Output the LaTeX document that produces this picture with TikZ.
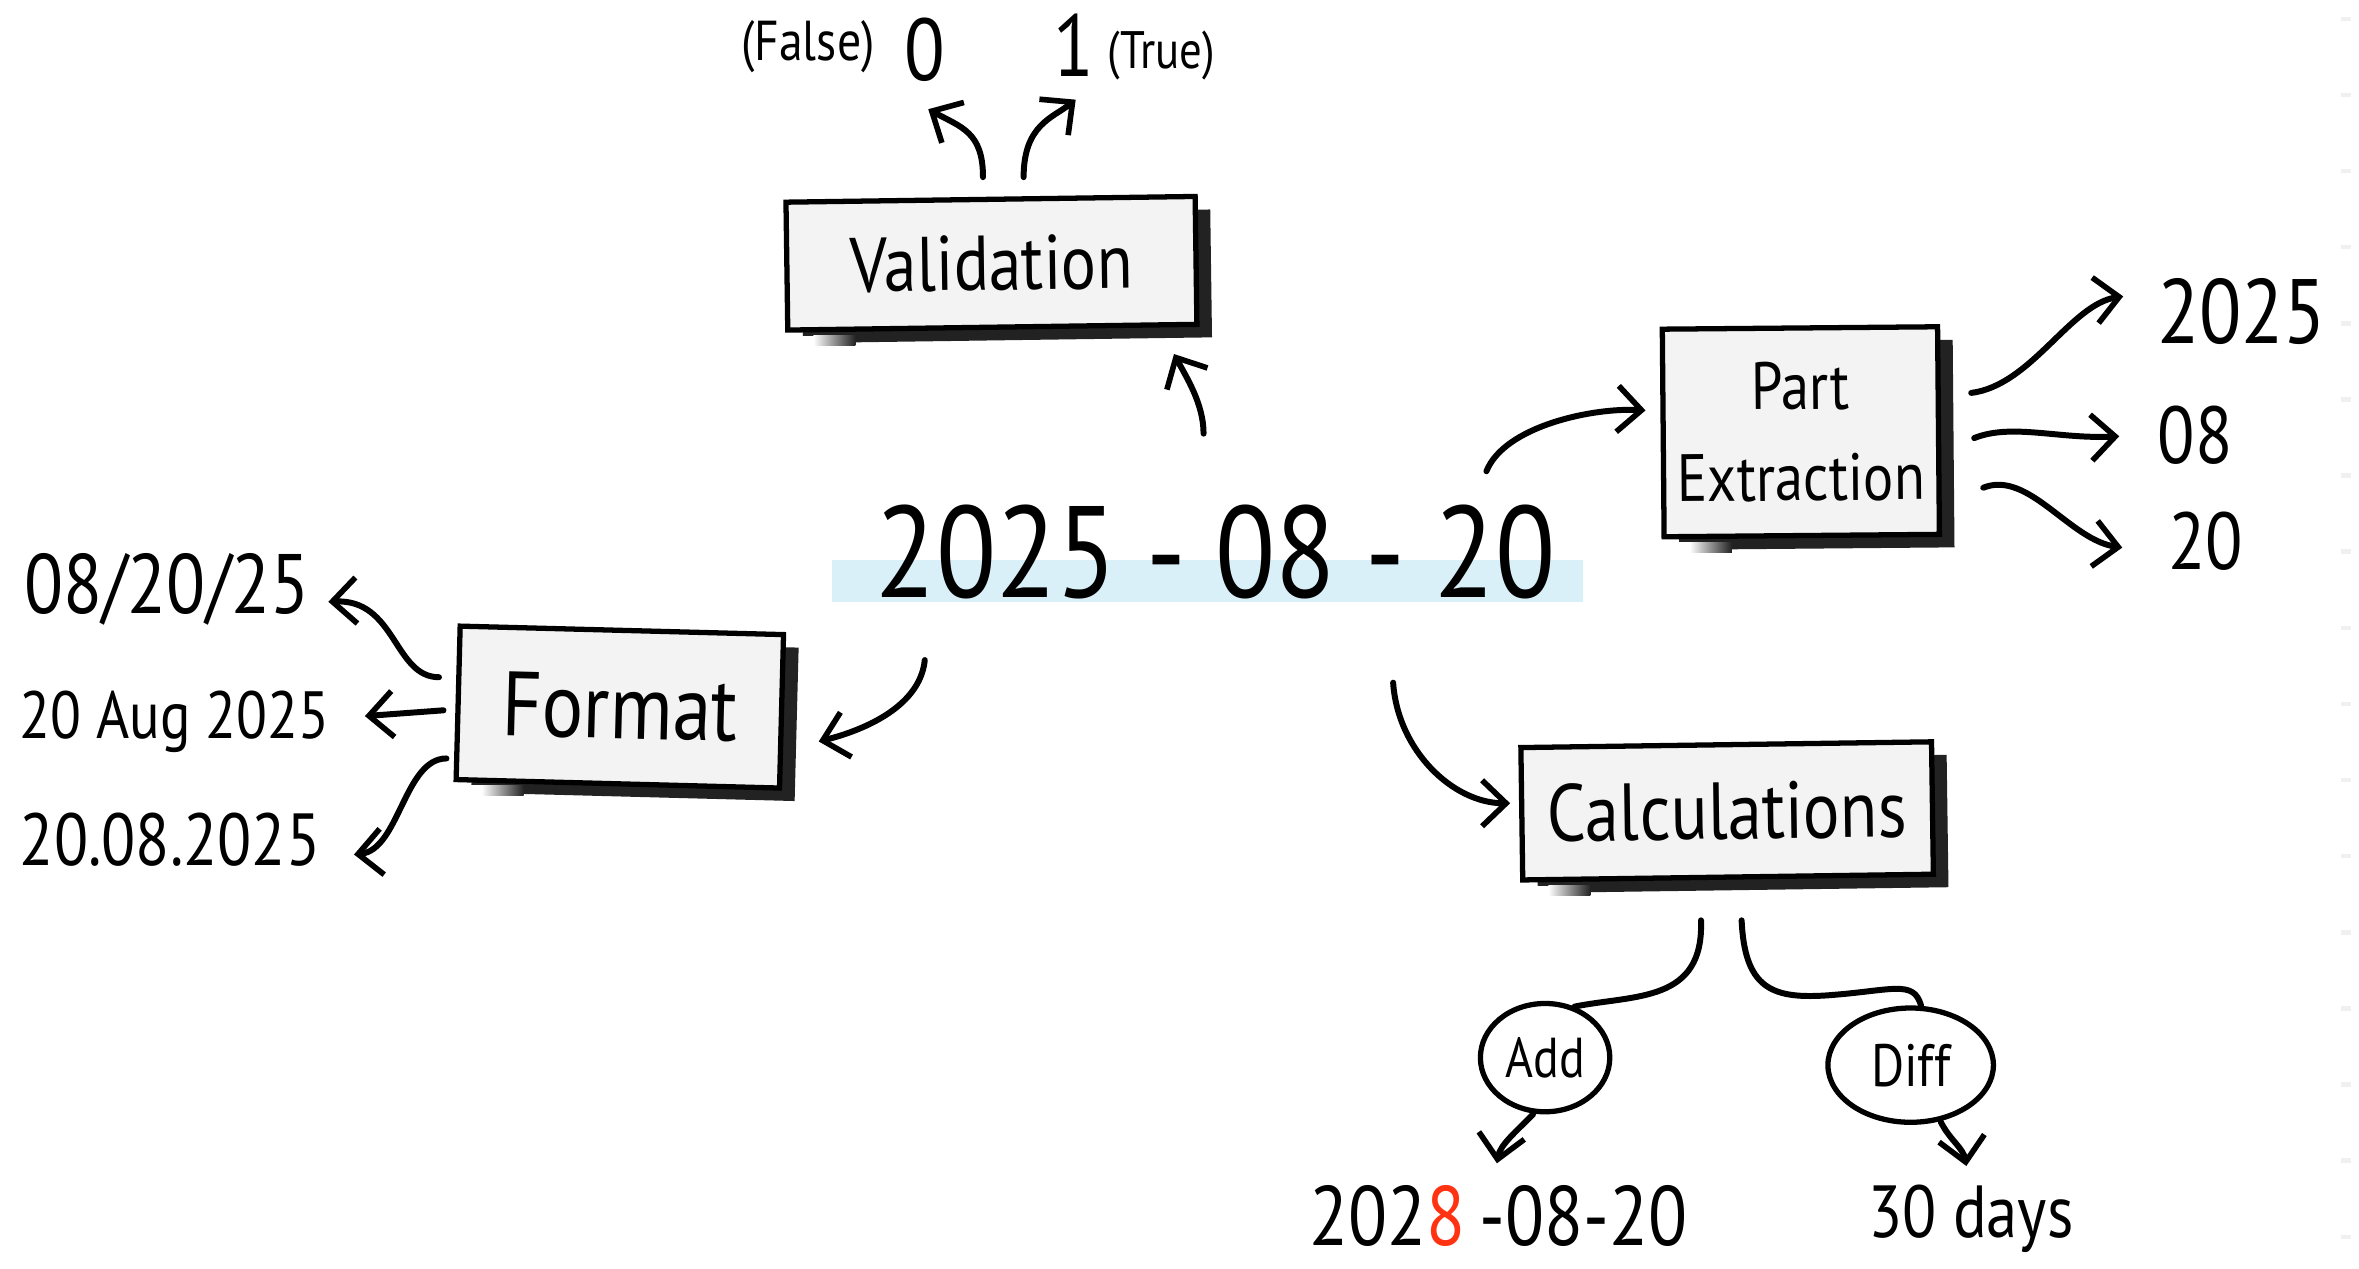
\documentclass[tikz,border=0pt]{standalone}
\usepackage{fontspec}
\setmainfont{PT Sans}[FakeStretch=0.85]
\usetikzlibrary{arrows.meta,calc,shadows,shapes.geometric}
\definecolor{boxfill}{HTML}{F3F3F3}
\definecolor{hilite}{HTML}{DAF0F8}
\definecolor{accent}{HTML}{FF3311}
\definecolor{shadowink}{HTML}{222222}
\newcommand\fs[1]{\fontsize{#1}{#1}\selectfont}
% soft start of the bottom shadow strip of a card
\newcommand\softshadow[1]{%
  \fill[white] ($(#1.south west)+(2.8pt,-0.85pt)$) rectangle ($(#1.south west)+(8pt,-3.75pt)$);
  \shade[left color=white, right color=shadowink]
    ($(#1.south west)+(8pt,-0.85pt)$) rectangle ($(#1.south west)+(20pt,-3.75pt)$);}

\begin{document}
\begin{tikzpicture}[x=0.15045mm, y=-0.15045mm,
  card/.style={draw, line width=1.5pt, fill=boxfill, inner sep=0pt, align=center,
    drop shadow={shadow xshift=4.3pt, shadow yshift=-3.7pt, fill=shadowink, opacity=1}},
  bubble/.style={draw, ellipse, line width=1.5pt, inner sep=0pt, fill=white},
  lbl/.style={inner sep=0pt},
  link/.style={line width=1.7pt, line cap=round},
  arr/.style={link, -{Straight Barb[length=2.4mm, width=4.6mm, line width=1.6pt]}}]

% canvas
\fill[white] (0,0) rectangle (1568,843);
\useasboundingbox (0,0) rectangle (1568,843);

% faint ticks along the right edge
\foreach \k in {0,...,16}
  \fill[black!6] (1556,{11+50.6*\k}) rectangle ++(7,3);

% marker stroke under the central date
\fill[hilite] (553,372) rectangle (1052,400);

% central date
\node[lbl, font=\fs{37}] (date) at (808,367) {2025 - 08 - 20};

% the four operation cards
\node[card, minimum width=40.92mm, minimum height=12.79mm, rotate=0.8, font=\fs{22}] (val) at (659,175) {Validation};
\node[card, minimum width=27.53mm, minimum height=20.76mm, rotate=0.5, font=\fontsize{19}{26}\selectfont] (part) at (1197,287) {Part\\Extraction};
\node[card, minimum width=32.35mm, minimum height=15.35mm, rotate=-1.5, font=\fs{26}] (fmt) at (412,470) {Format};
\node[card, minimum width=41.07mm, minimum height=13.24mm, rotate=0.8, font=\fs{23}] (calc) at (1148,539) {Calculations};
\softshadow{val}
\softshadow{part}
\softshadow{fmt}
\softshadow{calc}

% validation results
\node[lbl, font=\fs{16}] (falselbl) at (537,31) {(False)};
\node[lbl, font=\fs{25}] (zero) at (615,33) {0};
\node[lbl, font=\fs{25}] (one) at (714,30) {1};
\node[lbl, font=\fs{15}] (truelbl) at (772,37) {(True)};

% extracted parts
\node[lbl, font=\fs{26}] (y25) at (1490,207) {2025};
\node[lbl, font=\fs{23}] (m08) at (1459,289) {08};
\node[lbl, font=\fs{23}] (d20) at (1466,360) {20};

% formatted variants
\node[lbl, font=\fs{24}] (f1) at (111,392) {08/20/25};
\node[lbl, font=\fs{19}] (f2) at (116,480) {20 Aug 2025};
\node[lbl, font=\fs{21}] (f3) at (113,558) {20.08.2025};

% calculation branches
\node[bubble, minimum width=12.94mm, minimum height=10.83mm, font=\fs{16}] (add) at (1027,703) {Add};
\node[bubble, minimum width=16.55mm, minimum height=11.43mm, font=\fs{17}] (diff) at (1270,708) {Diff};
\node[lbl, font=\fs{24}] (res1) at (996,808) {202\textcolor{accent}{8}\,-08-20};
\node[lbl, font=\fs{21}] (res2) at (1310,810) {30 days};

% connectors: validation
\draw[arr] ($(val.north)+(-5,-13)$) .. controls +(0,-30) and +(22,12) .. ($(zero.south)+(2,18)$);
\draw[arr] ($(val.north)+(22,-13)$) .. controls +(0,-35) and +(-15,12) .. ($(one.south)+(1,15)$);
\draw[arr] ($(date.north)+(-8,-47)$) .. controls +(0,-20) and +(8,15) .. ($(val.south east)+(-17,18)$);

% connectors: part extraction
\draw[arr] ($(date.north)+(180,-22)$) .. controls +(12,-30) and +(-35,-2) .. ($(part.west)+(-10,-15)$);
\draw[arr] ($(part.east)+(20,-25)$) .. controls +(40,-5) and +(-35,5) .. ($(y25.west)+(-22,-10)$);
\draw[arr] ($(part.east)+(22,5)$) .. controls +(25,-10) and +(-40,2) .. ($(m08.west)+(-25,1)$);
\draw[arr] ($(part.east)+(28,38)$) .. controls +(30,-12) and +(-35,-5) .. ($(d20.west)+(-30,4)$);

% connectors: format
\draw[arr] ($(date.south west)+(33,40)$) .. controls +(-3,30) and +(32,-8) .. ($(fmt.east)+(23,20)$);
\draw[arr] ($(fmt.west)+(-11,-17)$) .. controls +(-30,0) and +(45,-2) .. ($(f1.east)+(12,8)$);
\draw[arr] ($(fmt.west)+(-8,5)$) -- ($(f2.east)+(23,-4)$);
\draw[arr] ($(fmt.west)+(-6,37)$) .. controls +(-28,0) and +(30,-3) .. ($(f3.east)+(22,10)$);

% connectors: calculations
\draw[arr] ($(date.south)+(118,55)$) .. controls +(3,45) and +(-38,0) .. ($(calc.west)+(-6,-7)$);
\draw[link] ($(calc.south)+(-18,27)$) .. controls +(2,55) and +(40,-8) .. (add.60);
\draw[link] ($(calc.south)+(9,27)$) .. controls +(2,45) and +(-35,2) .. ++(55,50)
  .. controls +(45,-3) and +(-5,-18) .. (diff.80);
\draw[arr] ($(add.south)+(-8,0)$) .. controls +(-12,12) and +(2,-12) .. ($(res1.north)+(-1,-14)$);
\draw[arr] ($(diff.south)+(20,-2)$) .. controls +(6,12) and +(-2,-12) .. ($(res2.north)+(-3,-12)$);
\end{tikzpicture}
\end{document}
